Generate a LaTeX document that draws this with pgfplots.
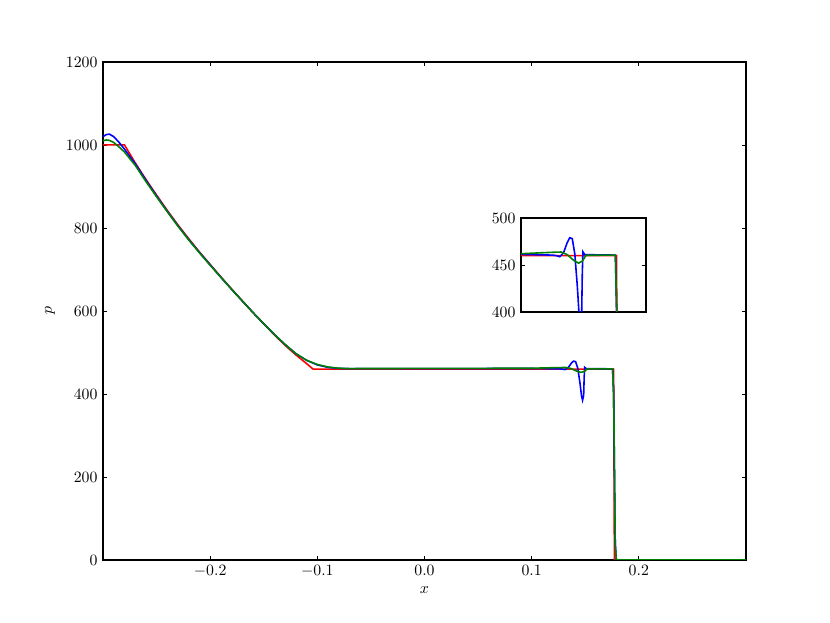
\documentclass[border=0pt]{standalone}
\usepackage{pgfplots}
\pgfplotsset{compat=1.18}
\definecolor{mplgreen}{rgb}{0,0.5,0}

\pgfplotstableread{
x p
-0.300 1000
-0.280 1000
-0.270 957
-0.260 917
-0.250 879
-0.240 842
-0.230 807
-0.220 774
-0.210 742
-0.200 712
-0.190 682
-0.180 653
-0.170 624
-0.160 596
-0.150 569
-0.140 542
-0.130 517
-0.120 494
-0.110 473
-0.104 460
0.1765 460
0.1772 0
0.300 0
}\redtab

\pgfplotstableread{
x p
-0.300 1020
-0.297 1025
-0.294 1026
-0.290 1020
-0.285 1006
-0.280 990
-0.275 972
-0.270 955
-0.260 915
-0.250 877
-0.240 840
-0.230 805
-0.220 772
-0.210 741
-0.200 711
-0.190 681
-0.180 652
-0.170 624
-0.160 596
-0.150 569
-0.140 543
-0.130 519
-0.120 497
-0.110 481
-0.100 470
-0.090 464
-0.080 461.5
-0.070 461
0.100 461.3
0.125 460.5
0.128 460
0.131 458.8
0.134 463
0.137 474
0.139 479
0.141 478
0.143 462
0.145 428
0.1465 396
0.1475 385
0.1485 396
0.149 440
0.1495 464
0.151 461
0.1755 460.5
0.1765 400
0.1780 40
0.1790 0
0.300 0
}\bluetab

\pgfplotstableread{
x p
-0.300 1010
-0.297 1012
-0.294 1011
-0.290 1006
-0.285 995
-0.280 983
-0.275 967
-0.270 951
-0.260 912
-0.250 875
-0.240 839
-0.230 804
-0.220 771
-0.210 740
-0.200 710
-0.190 681
-0.180 652
-0.170 624
-0.160 596
-0.150 569
-0.140 543
-0.130 519
-0.120 497
-0.110 481
-0.100 471
-0.090 465
-0.080 462
-0.070 461.2
0.100 462
0.125 463.5
0.132 463.8
0.137 461
0.142 455
0.146 452
0.149 454
0.152 460.3
0.1755 460.5
0.1765 400
0.1780 40
0.1790 0
0.300 0
}\greentab

\begin{document}
\fontsize{11}{13}\selectfont
\begin{tikzpicture}
\path[use as bounding box] (0,0) rectangle (576pt,432.3pt);
\begin{axis}[
  at={(71.5pt,43.7pt)}, anchor=south west,
  scale only axis, width=446.2pt, height=345.6pt,
  xmin=-0.3, xmax=0.3, ymin=0, ymax=1200,
  xtick={-0.2,-0.1,0,0.1,0.2},
  ytick={0,200,400,600,800,1000,1200},
  xticklabel style={/pgf/number format/.cd, fixed, fixed zerofill, precision=1},
  yticklabel style={/pgf/number format/.cd, fixed, 1000 sep={}},
  tick align=inside, major tick length=2.8pt,
  xtick pos=both, ytick pos=both,
  axis line style={line width=0.8pt},
  every tick/.style={black, line width=0.6pt},
  xlabel={$x$}, ylabel={$p$},
  xlabel style={at={(axis description cs:0.5,-0.0602)}, anchor=center},
  ylabel style={at={(axis description cs:-0.0825,0.5)}, anchor=center},
  tick label style={font=\fontsize{11}{13}\selectfont},
  label style={font=\fontsize{11}{13}\selectfont},
]
\addplot[red, line width=1.1pt] table[x=x,y=p] {\redtab};
\addplot[blue, line width=1.1pt] table[x=x,y=p] {\bluetab};
\addplot[mplgreen, line width=1.1pt] table[x=x,y=p] {\greentab};
\end{axis}
\begin{axis}[
  at={(361.6pt,215.8pt)}, anchor=south west,
  scale only axis, width=86.7pt, height=65.2pt,
  xmin=0.1, xmax=0.2, ymin=400, ymax=500,
  xtick=\empty, ytick={400,450,500},
  tick align=inside, major tick length=2.8pt,
  ytick pos=both,
  axis line style={line width=0.8pt},
  every tick/.style={black, line width=0.6pt},
  tick label style={font=\fontsize{11}{13}\selectfont},
  clip=true,
]
\addplot[red, line width=1.1pt] table[x=x,y=p] {\redtab};
\addplot[blue, line width=1.1pt] table[x=x,y=p] {\bluetab};
\addplot[mplgreen, line width=1.1pt] table[x=x,y=p] {\greentab};
\end{axis}
\end{tikzpicture}
\end{document}
